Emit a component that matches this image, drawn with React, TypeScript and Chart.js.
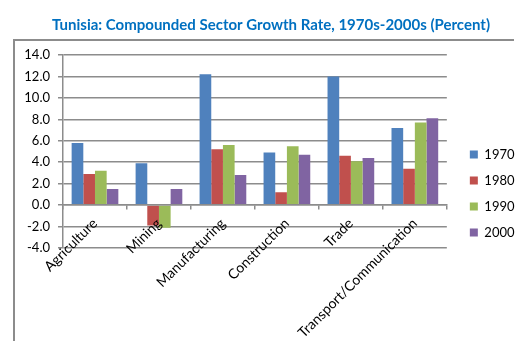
import React, { useEffect, useRef } from "react";
import { Chart, registerables } from "chart.js";

Chart.register(...registerables);

const categories = ["Agriculture", "Mining", "Manufacturing", "Construction", "Trade", "Transport/Communication"];
const seriesLabels = ["1970", "1980", "1990", "2000"];
const values1970 = [5.8, 3.9, 12.2, 4.9, 12.0, 7.2];
const values1980 = [2.9, -1.9, 5.2, 1.2, 4.6, 3.4];
const values1990 = [3.2, -2.1, 5.6, 5.5, 4.1, 7.7];
const values2000 = [1.5, 1.5, 2.8, 4.7, 4.4, 8.1];
const seriesColors = ["#4F81BD", "#C0504D", "#9BBB59", "#8064A2"];
const yMin = -4;
const yMax = 14;
const yStep = 2;
const titleText = "Tunisia: Compounded Sector Growth Rate, 1970s-2000s (Percent)";

const FONT = "Lato, 'Open Sans', sans-serif";
const GRID = "#8c8c8c";

const framePlugin = {
  id: "frame",
  afterLayout(chart: any) {
    const lg = chart.legend;
    if (lg) {
      lg.left += 10;
      lg.right += 10;
      lg.top += 4;
      lg.bottom += 4;
    }
    const tb = chart.titleBlock;
    if (tb) {
      tb.left = 25;
      tb.right = 517;
    }
  },
  beforeDraw(chart: any) {
    const ctx = chart.ctx;
    ctx.save();
    ctx.strokeStyle = "#8c8c8c";
    ctx.lineWidth = 2;
    ctx.beginPath();
    ctx.moveTo(14, 341);
    ctx.lineTo(14, 40);
    ctx.lineTo(514, 40);
    ctx.stroke();
    ctx.restore();
  },
};

export default function App() {
  const ref = useRef<HTMLCanvasElement>(null);

  useEffect(() => {
    document.body.style.margin = "0";
    const all = [values1970, values1980, values1990, values2000];
    const chart = new Chart(ref.current as HTMLCanvasElement, {
      type: "bar",
      data: {
        labels: categories,
        datasets: all.map((vals, i) => ({
          label: seriesLabels[i],
          data: vals,
          backgroundColor: seriesColors[i],
          borderWidth: 0,
          barPercentage: 1,
          categoryPercentage: 0.73,
        })),
      },
      options: {
        animation: false,
        responsive: false,
        devicePixelRatio: 1,
        layout: { padding: { left: 14, right: 2.5, top: 0, bottom: 93 } },
        plugins: {
          title: {
            display: true,
            text: titleText,
            color: "#0070C0",
            font: { family: FONT, size: 15, weight: "bold" },
            padding: { top: 16, bottom: 21 },
          },
          legend: {
            position: "right",
            align: "end",
            labels: {
              boxWidth: 8,
              boxHeight: 8,
              padding: 13,
              color: "#000",
              font: { family: FONT, size: 13 },
            },
          },
          tooltip: { enabled: false },
        },
        scales: {
          x: {
            position: { y: 0 } as any,
            offset: true,
            grid: {
              display: true,
              drawOnChartArea: false,
              drawTicks: true,
              tickLength: 4,
              offset: true,
              color: GRID,
              lineWidth: 1.5,
            },
            border: { display: true, color: GRID, width: 1.5, z: 1 },
            ticks: {
              z: 1,
              autoSkip: false,
              maxRotation: 45,
              minRotation: 45,
              padding: 6,
              color: "#000",
              font: { family: FONT, size: 14 },
            },
          },
          y: {
            min: yMin,
            max: yMax,
            afterFit: (s: any) => {
              s.width = 49;
            },
            grid: { color: GRID, lineWidth: 1.5, tickLength: 5, drawTicks: true },
            border: { display: true, color: GRID, width: 1.5 },
            ticks: {
              stepSize: yStep,
              padding: 8,
              color: "#000",
              font: { family: FONT, size: 13 },
              callback: (v: any) => Number(v).toFixed(1),
            },
          },
        },
      },
      plugins: [framePlugin],
    });
    return () => chart.destroy();
  }, []);

  return (
    <div style={{ position: "fixed", left: 0, top: 0, width: 517, height: 341 }}>
      <canvas ref={ref} width={517} height={341} />
    </div>
  );
}
